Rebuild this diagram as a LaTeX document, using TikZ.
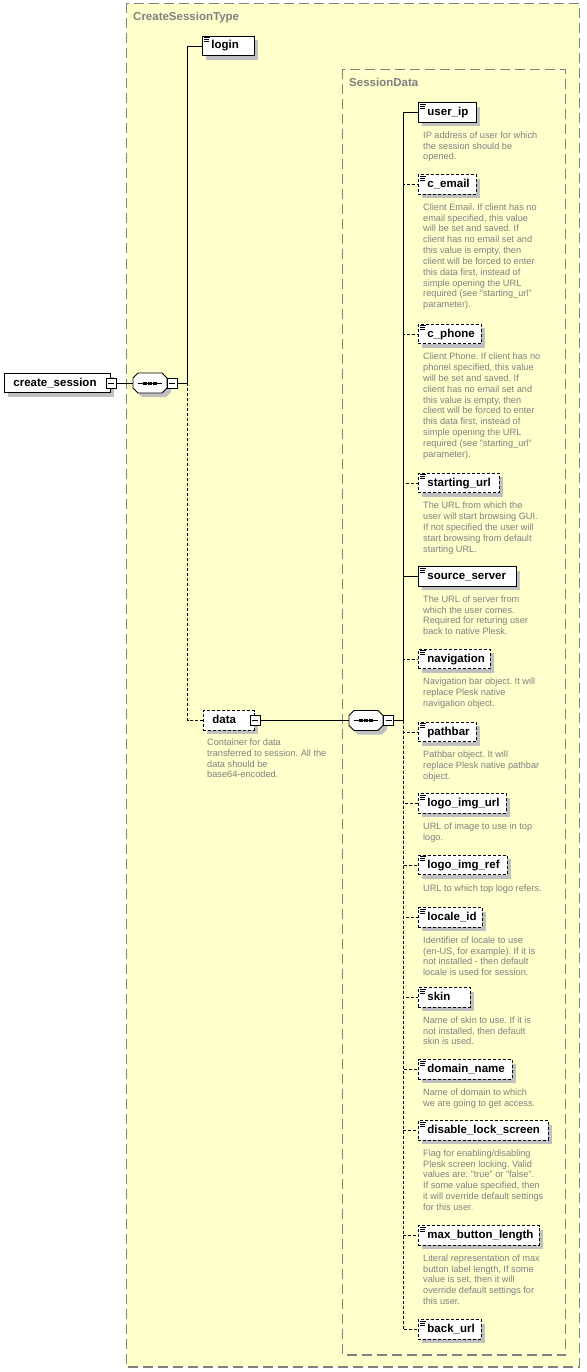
\documentclass[tikz,border=0pt]{standalone}
\usepackage{fontspec}
\setmainfont{Liberation Sans}
\usetikzlibrary{shadows,calc}
\frenchspacing
\definecolor{bgyellow}{RGB}{255,255,204}
\definecolor{framegray}{RGB}{128,128,128}
\definecolor{shadowgray}{RGB}{192,192,192}
\definecolor{descgray}{RGB}{128,128,128}
\tikzset{
  elem/.style={draw=black, fill=white, line width=0.9pt, minimum height=19.5pt,
    inner ysep=0pt, inner xsep=0pt, align=left, anchor=west,
    font=\fontsize{11.5}{12}\selectfont\bfseries, text height=8.5pt, text depth=2.5pt,
    general shadow={fill=shadowgray, shadow xshift=4pt, shadow yshift=-4pt}},
  optelem/.style={elem, dash pattern=on 3pt off 2pt},
  desc/.style={anchor=north west, inner sep=0pt, align=left, text=descgray,
    font=\fontsize{9.2}{10.85}\selectfont, execute at begin node=\strut},
  minusbox/.style={draw=black, fill=white, line width=0.8pt, minimum size=10pt, inner sep=0pt,
    path picture={\draw[line width=0.8pt] ([xshift=-3pt]path picture bounding box.center) -- ([xshift=3pt]path picture bounding box.center);}},
  seqbox/.style={rectangle, draw=none, minimum width=34pt, minimum height=20pt, inner sep=0pt},
  conn/.style={line width=0.9pt},
  optconn/.style={line width=0.9pt, dash pattern=on 3pt off 2pt},
  frame/.style={draw=framegray, fill=bgyellow, line width=1.2pt, dash pattern=on 10pt off 5pt},
  frametitle/.style={anchor=base west, inner sep=0pt, text=framegray,
    font=\fontsize{11.5}{12}\selectfont\bfseries},
  icon/.style={line width=0.7pt},
}
\newcommand{\lb}[1]{\hspace*{9pt}#1}
% octagon sequence symbol drawn around a named node
\newcommand{\seqsym}[1]{%
  \fill[shadowgray, shift={($(#1.center)+(4,4)$)}] (-17,-5) -- (-12,-10) -- (12,-10) -- (17,-5) -- (17,5) -- (12,10) -- (-12,10) -- (-17,5) -- cycle;
  \draw[line width=0.9pt, fill=white, shift={(#1.center)}] (-17,-5) -- (-12,-10) -- (12,-10) -- (17,-5) -- (17,5) -- (12,10) -- (-12,10) -- (-17,5) -- cycle;
  \draw[line width=1pt, shift={(#1.center)}] (-12,0) -- (12,0);
  \foreach \dx in {-5,0,5}{\fill[shift={(#1.center)}] (\dx-1.6,-1.5) rectangle (\dx+1.6,1.5);}
}
\begin{document}
\begin{tikzpicture}[x=1pt,y=-1pt]
\useasboundingbox (0,0) rectangle (586,1372);
% frames
\draw[frame] (126.7,3.5) rectangle (579.3,1367);
\node[frametitle] (ttl1) at (133,21) {CreateSessionType};
\draw[frame] (342.7,69.3) rectangle (565.7,1355);
\node[frametitle] (ttl2) at (349,87) {SessionData};

% left part
\node[elem, text width=106pt] (cs) at (4,383) {\hspace*{9pt}create\_session};
\node[minusbox] (csm) at (cs.east) {};
\node[seqbox] (seq1) at (150,383) {};
\seqsym{seq1}
\node[minusbox] (seq1m) at (172,383) {};
\coordinate (bus1) at (187.5,383);

\node[elem, text width=52pt] (login) at (202,46) {\lb{login}};
\node[optelem, text width=51pt] (data) at (203,720.5) {\lb{data}};
\node[minusbox] (datam) at (data.east) {};
\node[desc] (datad) at (207,738.5) {Container for data\\transferred to session. All the\\data should be\\base64-encoded.};

\node[seqbox] (seq2) at (366,720.5) {};
\seqsym{seq2}
\node[minusbox] (seq2m) at (388.5,720.5) {};
\coordinate (bus2) at (403,720.5);

% children
\node[elem, text width=58pt] (user_ip) at (418,112.5) {\lb{user\_ip}};
\node[optelem, text width=58pt] (c_email) at (418,184.5) {\lb{c\_email}};
\node[optelem, text width=63pt] (c_phone) at (418,334) {\lb{c\_phone}};
\node[optelem, text width=81pt] (starting_url) at (418,483) {\lb{starting\_url}};
\node[elem, text width=98pt] (source_server) at (418,576.5) {\lb{source\_server}};
\node[optelem, text width=72pt] (navigation) at (418,659) {\lb{navigation}};
\node[optelem, text width=58pt] (pathbar) at (418,732) {\lb{pathbar}};
\node[optelem, text width=88pt] (logo_img_url) at (418,803.5) {\lb{logo\_img\_url}};
\node[optelem, text width=89pt] (logo_img_ref) at (418,865) {\lb{logo\_img\_ref}};
\node[optelem, text width=64pt] (locale_id) at (418,917.5) {\lb{locale\_id}};
\node[optelem, text width=52pt] (skin) at (418,997.5) {\lb{skin}};
\node[optelem, text width=94pt] (domain_name) at (418,1069.5) {\lb{domain\_name}};
\node[optelem, text width=130pt] (disable_lock_screen) at (418,1130.5) {\lb{disable\_lock\_screen}};
\node[optelem, text width=121pt] (max_button_length) at (418,1235.5) {\lb{max\_button\_length}};
\node[optelem, text width=63pt] (back_url) at (418,1329.5) {\lb{back\_url}};

% icons
\foreach \n in {login,user_ip,c_email,c_phone,starting_url,source_server,navigation,pathbar,logo_img_url,logo_img_ref,locale_id,skin,domain_name,disable_lock_screen,max_button_length,back_url}{
  \draw[icon] ([xshift=2pt,yshift=-2pt]\n.north west) -- ++(6,0);
  \draw[icon] ([xshift=2pt,yshift=-3.8pt]\n.north west) -- ++(5,0);
  \draw[icon] ([xshift=2pt,yshift=-5.6pt]\n.north west) -- ++(5,0);
}

% descriptions
\node[desc] at ([xshift=5pt,yshift=-8.6pt]user_ip.south west) {IP address of user for which\\the session should be\\opened.};
\node[desc] at ([xshift=5pt,yshift=-8.6pt]c_email.south west) {Client Email. If client has no\\email specified, this value\\will be set and saved. If\\client has no email set and\\this value is empty, then\\client will be forced to enter\\this data first, instead of\\simple opening the URL\\required (see "starting\_url"\\parameter).};
\node[desc] at ([xshift=5pt,yshift=-8.6pt]c_phone.south west) {Client Phone. If client has no\\phonel specified, this value\\will be set and saved. If\\client has no email set and\\this value is empty, then\\client will be forced to enter\\this data first, instead of\\simple opening the URL\\required (see "starting\_url"\\parameter).};
\node[desc] at ([xshift=5pt,yshift=-8.6pt]starting_url.south west) {The URL from which the\\user will start browsing GUI.\\If not specified the user will\\start browsing from default\\starting URL.};
\node[desc] at ([xshift=5pt,yshift=-8.6pt]source_server.south west) {The URL of server from\\which the user comes.\\Required for returing user\\back to native Plesk.};
\node[desc] at ([xshift=5pt,yshift=-8.6pt]navigation.south west) {Navigation bar object. It will\\replace Plesk native\\navigation object.};
\node[desc] at ([xshift=5pt,yshift=-8.6pt]pathbar.south west) {Pathbar object. It will\\replace Plesk native pathbar\\object.};
\node[desc] at ([xshift=5pt,yshift=-8.6pt]logo_img_url.south west) {URL of image to use in top\\logo.};
\node[desc] at ([xshift=5pt,yshift=-8.6pt]logo_img_ref.south west) {URL to which top logo refers.};
\node[desc] at ([xshift=5pt,yshift=-8.6pt]locale_id.south west) {Identifier of locale to use\\(en-US, for example). If it is\\not installed - then default\\locale is used for session.};
\node[desc] at ([xshift=5pt,yshift=-8.6pt]skin.south west) {Name of skin to use. If it is\\not installed, then default\\skin is used.};
\node[desc] at ([xshift=5pt,yshift=-8.6pt]domain_name.south west) {Name of domain to which\\we are going to get access.};
\node[desc] at ([xshift=5pt,yshift=-8.6pt]disable_lock_screen.south west) {Flag for enabling/disabling\\Plesk screen locking. Valid\\values are: "true" or "false".\\If some value specified, then\\it will override default settings\\for this user.};
\node[desc] at ([xshift=5pt,yshift=-8.6pt]max_button_length.south west) {Literal representation of max\\button label length, If some\\value is set, then it will\\override default settings for\\this user.};

% connectors
\draw[conn] (csm.east) -- (seq1.west);
\draw[conn] (seq1m.east) -- (bus1);
\draw[optconn] (bus1) |- (data.west);
\draw[conn] (bus1) |- (login.west);
\draw[conn] (datam.east) -- (seq2.west);
\draw[conn] (seq2m.east) -- (bus2);
\foreach \n in {c_email,c_phone,starting_url,navigation,pathbar,logo_img_url,logo_img_ref,locale_id,skin,domain_name,disable_lock_screen,max_button_length,back_url}{
  \draw[optconn] (bus2) |- (\n.west);
}
\draw[conn] (bus2) |- (user_ip.west);
\draw[conn] (bus2) |- (source_server.west);
\end{tikzpicture}
\end{document}
